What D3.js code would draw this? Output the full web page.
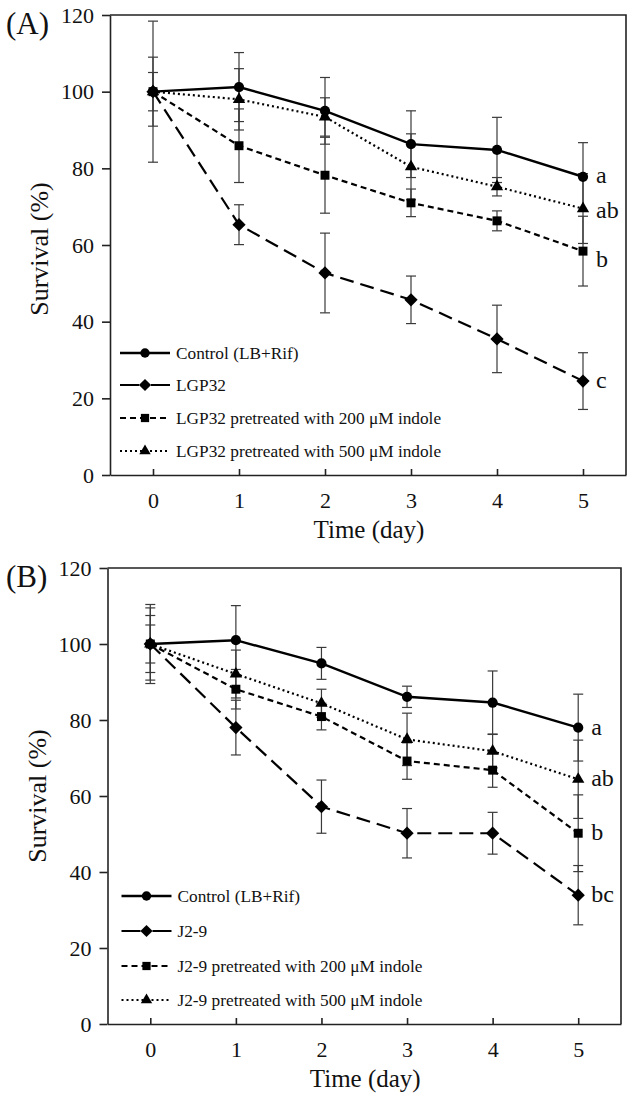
<!DOCTYPE html>
<html><head><meta charset="utf-8">
<script src="https://cdn.jsdelivr.net/npm/d3@7"></script>
<style>body{margin:0;background:#fff}svg{display:block}svg text{font-family:"Liberation Serif","Times New Roman",serif !important}</style>
</head><body>
<svg id="c" width="629" height="1103"></svg>
<script>
const days = [0,1,2,3,4,5];
const yTicks = [0,20,40,60,80,100,120];

// Panel A
const ctrlA = [100, 101.2, 95.0, 86.3, 84.8, 77.8];
const ctrlAErr = [18.4, 9, 8.7, 8.7, 8.5, 8.9];
const lgpA = [100, 65.3, 52.7, 45.7, 35.5, 24.5];
const lgpAErr = [9, 5.2, 10.4, 6.2, 8.8, 7.4];
const sq200A = [100, 85.9, 78.2, 71.0, 66.3, 58.4];
const sq200AErr = [5, 9.6, 9.9, 3.6, 2.6, 9.1];
const tri500A = [100, 98.0, 93.4, 80.4, 75.2, 69.5];
const tri500AErr = [0, 8, 5, 8.6, 2.4, 9.1];
const namesA = ["Control (LB+Rif)", "LGP32", "LGP32 pretreated with 200 μM indole", "LGP32 pretreated with 500 μM indole"];
const lettersA = ["a", "c", "b", "ab"];
const letterPosA = [78, 24.5, 56.0, 69.0];

// Panel B
const ctrlB = [100, 101.0, 94.9, 86.1, 84.6, 78.0];
const ctrlBErr = [10.4, 9.1, 4.2, 2.8, 8.3, 8.8];
const j29B = [100, 78.0, 57.2, 50.2, 50.2, 33.9];
const j29BErr = [5, 7.2, 7.0, 6.5, 5.5, 7.8];
const sq200B = [100, 88.1, 80.9, 69.2, 66.8, 50.2];
const sq200BErr = [7.5, 5.2, 3.5, 4.8, 4.5, 10.1];
const tri500B = [100, 92.1, 84.4, 74.9, 71.8, 64.4];
const tri500BErr = [9.5, 6.3, 3.7, 6.9, 4.4, 10.3];
const namesB = ["Control (LB+Rif)", "J2-9", "J2-9 pretreated with 200 μM indole", "J2-9 pretreated with 500 μM indole"];
const lettersB = ["a", "bc", "b", "ab"];
const letterPosB = [78, 33.9, 50.2, 64.4];

const symDiamond = {draw(ctx,size){const r=Math.sqrt(size/2);ctx.moveTo(0,-r);ctx.lineTo(r,0);ctx.lineTo(0,r);ctx.lineTo(-r,0);ctx.closePath();}};
const styles = [
  {dash:null, legDash:null, sym:d3.symbolCircle, size:82, width:2.4},
  {dash:"14,7", legDash:"19,12", sym:symDiamond, size:88, width:2.2},
  {dash:"6,4", legDash:"6,4", sym:d3.symbolSquare, size:80, width:2.2},
  {dash:"2,3", legDash:"2,3", sym:d3.symbolTriangle, size:66, width:2.2}
];

const svg = d3.select("#c");

function panel(cfg){
  const g = svg.append("g");
  const x = d3.scaleLinear().domain([-0.5,5.5]).range([cfg.left, cfg.right]);
  const y = d3.scaleLinear().domain([0,120]).range([cfg.bottom, cfg.top]);

  g.append("path").attr("d", `M${cfg.left},${cfg.top}H${cfg.right}V${cfg.bottom}`)
    .attr("fill","none").attr("stroke","#222").attr("stroke-width",1.6);

  const ya = g.append("g").attr("transform",`translate(${cfg.left},0)`)
    .call(d3.axisLeft(y).tickValues(yTicks).tickFormat(d3.format("d")).tickSizeInner(8).tickSizeOuter(0).tickPadding(8));
  const xa = g.append("g").attr("transform",`translate(0,${cfg.bottom})`)
    .call(d3.axisBottom(x).tickValues(days).tickFormat(d3.format("d")).tickSizeInner(-6).tickSizeOuter(0).tickPadding(17));
  [ya,xa].forEach(a=>{
    a.selectAll("path,line").attr("stroke","#222").attr("stroke-width",1.6);
    a.selectAll("text").attr("font-size",22).attr("fill","#111");
  });

  g.append("text").attr("x",6).attr("y",cfg.top+19).attr("font-size",31).attr("fill","#111").text(cfg.tag);
  g.append("text").attr("transform",`translate(${cfg.left-62},${y(60)+cfg.labShift}) rotate(-90)`)
    .attr("text-anchor","middle").attr("font-size",26).attr("fill","#111").text("Survival (%)");
  g.append("text").attr("x",(x(0)+x(5))/2+1).attr("y",cfg.bottom+63)
    .attr("text-anchor","middle").attr("font-size",25).attr("fill","#111").text("Time (day)");

  cfg.series.forEach((s,i)=>{
    const eg = g.append("g").attr("stroke","#3a3a3a").attr("stroke-width",1.2);
    days.forEach((d,j)=>{
      const v=s.v[j], e=s.e[j];
      if(!e) return;
      eg.append("line").attr("x1",x(d)).attr("x2",x(d)).attr("y1",y(v+e)).attr("y2",y(v-e));
      [v+e,v-e].forEach(t=>eg.append("line").attr("x1",x(d)-5).attr("x2",x(d)+5).attr("y1",y(t)).attr("y2",y(t)));
    });
  });
  const line = d3.line().x((d,j)=>x(days[j])).y(d=>y(d));
  cfg.series.forEach((s,i)=>{
    const st=styles[i];
    g.append("path").datum(s.v).attr("d",line).attr("fill","none").attr("stroke","#000")
      .attr("stroke-width",st.width).attr("stroke-dasharray",st.dash);
  });
  cfg.series.slice().reverse().forEach((s,ri)=>{
    const st=styles[cfg.series.length-1-ri];
    g.selectAll(null).data(s.v).enter().append("path")
      .attr("d",d3.symbol().type(st.sym).size(st.size))
      .attr("transform",(d,j)=>`translate(${x(days[j])},${y(d)})`).attr("fill","#000");
  });
  cfg.letters.forEach((l,i)=>{
    g.append("text").attr("x",x(5)+13).attr("y",y(cfg.letterPos[i])+7)
      .attr("font-size",24).attr("fill","#111").text(l);
  });
  cfg.names.forEach((n,i)=>{
    const st=styles[i];
    const ly=cfg.legY[i];
    g.append("line").attr("x1",cfg.left+cfg.legX).attr("x2",cfg.left+cfg.legX+50).attr("y1",ly).attr("y2",ly)
      .attr("stroke","#000").attr("stroke-width",st.width).attr("stroke-dasharray",st.legDash);
    g.append("path").attr("d",d3.symbol().type(st.sym).size(st.size*0.85)())
      .attr("transform",`translate(${cfg.left+cfg.legX+25},${ly})`).attr("fill","#000");
    g.append("text").attr("x",cfg.left+cfg.legX+56).attr("y",ly+6).attr("font-size",17.3).attr("fill","#111").text(n);
  });
}

panel({tag:"(A)", left:110, right:626, top:15, bottom:475, labShift:4, legX:10,
  series:[{v:ctrlA,e:ctrlAErr},{v:lgpA,e:lgpAErr},{v:sq200A,e:sq200AErr},{v:tri500A,e:tri500AErr}],
  names:namesA, letters:lettersA, letterPos:letterPosA, legY:[353,385,418,451]});
panel({tag:"(B)", left:107.5, right:621, top:568, bottom:1024, labShift:0, legX:14,
  series:[{v:ctrlB,e:ctrlBErr},{v:j29B,e:j29BErr},{v:sq200B,e:sq200BErr},{v:tri500B,e:tri500BErr}],
  names:namesB, letters:lettersB, letterPos:letterPosB, legY:[896,931,966,1000]});
</script>
</body></html>
